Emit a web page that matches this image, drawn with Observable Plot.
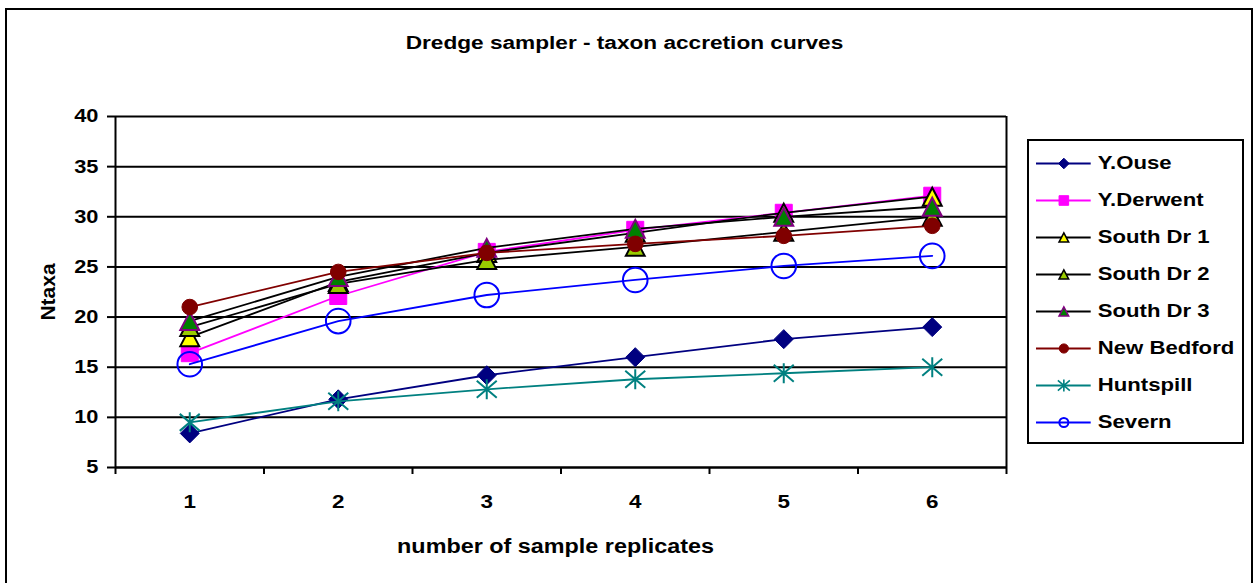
<!DOCTYPE html>
<html><head><meta charset="utf-8">
<script src="https://cdn.jsdelivr.net/npm/d3@7"></script>
<script src="https://cdn.jsdelivr.net/npm/@observablehq/plot@0.6"></script>
<style>
html,body{margin:0;padding:0;background:#fff;overflow:hidden;width:1254px;height:583px;}
#chart{position:absolute;left:0;top:0;}
#frame{position:absolute;left:5px;top:8px;width:1248px;height:640px;border:2px solid #000;box-sizing:border-box;pointer-events:none;}
#legend{position:absolute;left:1027px;top:139px;width:217px;height:305px;border:2px solid #000;box-sizing:border-box;background:#fff;}
#legend svg, #chart svg{display:block;}
</style></head><body>
<div id="chart"></div><div id="legend"></div><div id="frame"></div>
<script>
// ---------- data ----------
const titleText = "Dredge sampler - taxon accretion curves";
const xTitle = "number of sample replicates";
const yTitle = "Ntaxa";
const replicates = [1, 2, 3, 4, 5, 6];
const yTicks = [5, 10, 15, 20, 25, 30, 35, 40];
const seriesNames = ["Y.Ouse", "Y.Derwent", "South Dr 1", "South Dr 2", "South Dr 3", "New Bedford", "Huntspill", "Severn"];
const yOuse      = [8.4, 11.8, 14.2, 16.0, 17.8, 19.0];
const yDerwent   = [16.4, 22.1, 26.5, 28.7, 30.4, 32.1];
const southDr1   = [18.0, 23.5, 26.4, 28.4, 30.4, 32.0];
const southDr2   = [19.0, 23.3, 25.7, 27.0, 28.5, 30.0];
const southDr3   = [19.6, 24.0, 26.9, 28.8, 30.0, 31.0];
const newBedford = [21.0, 24.5, 26.4, 27.3, 28.1, 29.1];
const huntspill  = [9.5, 11.6, 12.8, 13.8, 14.4, 15.0];
const severn     = [15.3, 19.6, 22.2, 23.7, 25.1, 26.1];
const seriesValues = [yOuse, yDerwent, southDr1, southDr2, southDr3, newBedford, huntspill, severn];

const rows = [];
seriesNames.forEach((name, i) => seriesValues[i].forEach((v, j) => rows.push({series: name, rep: replicates[j], value: v})));

// ---------- symbols ----------
const rad = size => Math.sqrt(size / Math.PI);
const diamond = {draw(c, s){const h = rad(s); c.moveTo(0,-h); c.lineTo(h,0); c.lineTo(0,h); c.lineTo(-h,0); c.closePath();}};
const square = {draw(c, s){const h = rad(s); c.moveTo(-h,-h); c.lineTo(h,-h); c.lineTo(h,h); c.lineTo(-h,h); c.closePath();}};
const triangle = {draw(c, s){const h = rad(s); c.moveTo(0,-h); c.lineTo(1.05*h,h); c.lineTo(-1.05*h,h); c.closePath();}};
const circle = {draw(c, s){const h = rad(s); c.moveTo(h,0); c.arc(0,0,h,0,2*Math.PI); c.closePath();}};
const star = {draw(c, s){const h = rad(s); c.moveTo(0,-h); c.lineTo(0,h); c.moveTo(-h,-0.85*h); c.lineTo(h,0.85*h); c.moveTo(-h,0.85*h); c.lineTo(h,-0.85*h);}};

// ---------- styles ----------
const styles = {
  "Y.Ouse":      {line:"#000080", symbol:diamond,  fill:"#000080", stroke:"#000080", sw:1,   r:9.5, lr:5.3, lsw:1},
  "Y.Derwent":   {line:"#FF00FF", symbol:square,   fill:"#FF00FF", stroke:"#FF00FF", sw:1,   r:8.5, lr:4.8, lsw:1},
  "South Dr 1":  {line:"#000000", symbol:triangle, fill:"#FFFF00", stroke:"#000000", sw:2,   r:9,   lr:4.6, lsw:1.5},
  "South Dr 2":  {line:"#000000", symbol:triangle, fill:"#99CC00", stroke:"#000000", sw:2,   r:9,   lr:4.6, lsw:1.5},
  "South Dr 3":  {line:"#000000", symbol:triangle, fill:"#008000", stroke:"#800080", sw:2,   r:9,   lr:4.6, lsw:1.5},
  "New Bedford": {line:"#800000", symbol:circle,   fill:"#800000", stroke:"#800000", sw:1,   r:7.8, lr:4.6, lsw:1},
  "Huntspill":   {line:"#008080", symbol:star,     fill:"none",    stroke:"#008080", sw:2,   r:10,  lr:6,   lsw:1.6},
  "Severn":      {line:"#0000FF", symbol:circle,   fill:"none",    stroke:"#0000FF", sw:2,   r:12.3,lr:4.5, lsw:2}
};
const FONT = "'Liberation Sans', Arial, Helvetica, sans-serif";

// ---------- main chart ----------
const boundaries = replicates.map(d => d - 0.5).concat([replicates[replicates.length - 1] + 0.5]);
const seriesMarks = [];
for (const name of seriesNames) {
  const st = styles[name];
  const data = rows.filter(d => d.series === name);
  seriesMarks.push(Plot.line(data, {x: "rep", y: "value", stroke: st.line, strokeWidth: 1.8}));
  seriesMarks.push(Plot.dot(data, {x: "rep", y: "value", symbol: st.symbol, r: st.r, fill: st.fill, stroke: st.stroke, strokeWidth: st.sw}));
}

const chart = Plot.plot({
  width: 1254, height: 583,
  marginLeft: 115, marginRight: 248, marginTop: 116, marginBottom: 116,
  style: {fontFamily: FONT, fontWeight: "bold", color: "#000", background: "transparent"},
  x: {type: "linear", domain: [boundaries[0], boundaries[boundaries.length - 1]]},
  y: {type: "linear", domain: [yTicks[0], yTicks[yTicks.length - 1]]},
  marks: [
    Plot.gridY({ticks: yTicks, stroke: "#000", strokeOpacity: 1, strokeWidth: 2}),
    Plot.ruleX([boundaries[0], boundaries[boundaries.length - 1]], {stroke: "#000", strokeWidth: 2}),
    Plot.ruleY([yTicks[0]], {stroke: "#000", strokeWidth: 2}),
    Plot.axisY({ticks: yTicks, tickSize: 8, tickPadding: 9, stroke: "#000", strokeWidth: 2, fontSize: 18.5, fill: "#000", label: null}),
    Plot.axisX({ticks: boundaries, tickSize: 7, tickFormat: () => "", stroke: "#000", strokeWidth: 2, label: null}),
    Plot.axisX({ticks: replicates, tickSize: 0, tickPadding: 27, tickFormat: d => String(d), fontSize: 19, fill: "#000", label: null}),
    ...seriesMarks,
    Plot.text([titleText], {frameAnchor: "top", text: d => d, dx: 63.5, dy: -67.3, lineAnchor: "bottom", fontSize: 18.5, fill: "#000"}),
    Plot.text([xTitle], {frameAnchor: "bottom", text: d => d, dx: -5.5, dy: 85, lineAnchor: "bottom", fontSize: 19.5, fill: "#000"}),
    Plot.text([yTitle], {frameAnchor: "left", text: d => d, dx: -67, rotate: -90, textAnchor: "middle", lineAnchor: "middle", fontSize: 21, fill: "#000"})
  ]
});
document.getElementById("chart").appendChild(chart);

// ---------- legend ----------
const legendMarks = [
  Plot.ruleY(seriesNames, {y: d => d, x1: () => 0, x2: () => 1, stroke: d => styles[d].line, strokeWidth: 2})
];
for (const name of seriesNames) {
  const st = styles[name];
  legendMarks.push(Plot.dot([name], {x: () => 0.5, y: d => d, symbol: st.symbol, r: st.lr, fill: st.fill, stroke: st.stroke, strokeWidth: st.lsw}));
}
legendMarks.push(Plot.text(seriesNames, {x: () => 1, y: d => d, text: d => d, textAnchor: "start", lineAnchor: "middle", dx: 6.6, fontSize: 18.6, fill: "#000"}));

const legend = Plot.plot({
  width: 213, height: 301,
  margin: 0,
  style: {fontFamily: FONT, fontWeight: "bold", color: "#000", background: "transparent"},
  x: {type: "linear", domain: [0, 1], range: [7, 61.7], axis: null},
  y: {type: "point", domain: seriesNames, range: [19, 284], padding: 0, axis: null},
  color: {type: "identity"},
  marks: legendMarks
});
document.getElementById("legend").appendChild(legend);

// ---------- horizontal stretch of text to match the reference ----------
const mctx = document.createElement("canvas").getContext("2d");
function textWidth(t) {
  let w = 0;
  try { w = t.getComputedTextLength(); } catch (e) {}
  if (!w) { try { w = t.getBBox().width; } catch (e) {} }
  if (!w) {
    const cs = getComputedStyle(t);
    mctx.font = `bold ${cs.fontSize} 'Liberation Sans'`;
    w = mctx.measureText(t.textContent).width;
  }
  return w;
}
function applyStretch(t, f) {
  if (!isFinite(f) || f <= 0) return;
  const tr = t.getAttribute("transform");
  if (tr) {
    t.setAttribute("transform", tr + ` scale(${f},1)`);
  } else {
    const x = parseFloat(t.getAttribute("x")) || 0;
    t.setAttribute("transform", `translate(${x},0) scale(${f},1) translate(${-x},0)`);
  }
}
chart.querySelectorAll("text").forEach(t => {
  const s = t.textContent;
  if (s === yTitle || s === "") return;
  if (s === titleText) applyStretch(t, 438 / textWidth(t));
  else if (s === xTitle) applyStretch(t, 317 / textWidth(t));
  else applyStretch(t, 1.18);
});
legend.querySelectorAll("text").forEach(t => applyStretch(t, 1.19));
</script>
</body></html>
